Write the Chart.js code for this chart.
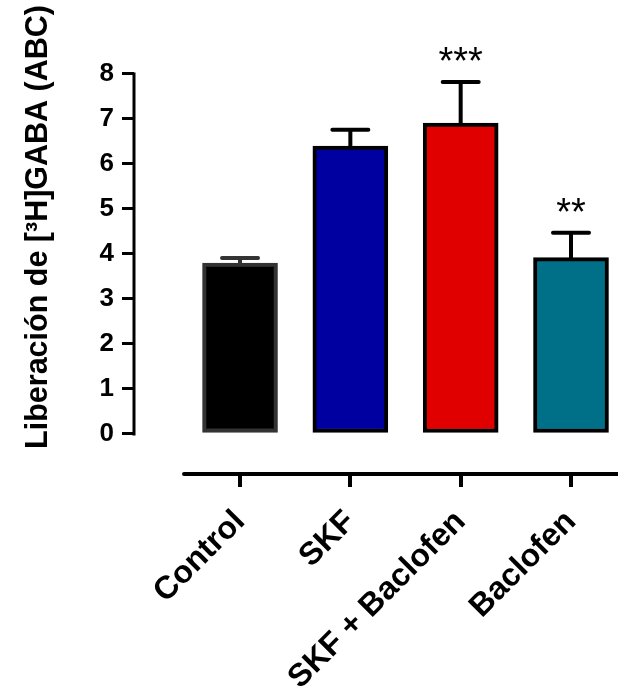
<!DOCTYPE html>
<html>
<head>
<meta charset="utf-8">
<script src="https://cdn.jsdelivr.net/npm/chart.js@4.4.0/dist/chart.umd.min.js"></script>
<style>
  html, body { margin: 0; padding: 0; background: #fff; overflow: hidden; }
  #wrap { width: 618px; height: 687px; position: relative; }
</style>
</head>
<body>
<div id="wrap"><canvas id="myChart"></canvas></div>
<script>
const categories = ['Control', 'SKF', 'SKF + Baclofen', 'Baclofen'];
const means = [3.80, 6.40, 6.91, 3.92];
const sem = [0.11, 0.36, 0.91, 0.55];
const stars = ['', '', '***', '**'];
const yTicks = [0, 1, 2, 3, 4, 5, 6, 7, 8];
const fillColors = ['#000000', '#0000a0', '#e00000', '#006f88'];
const edgeColors = ['#333333', '#000000', '#000000', '#000000'];

Chart.defaults.font.family = 'Arial, "Liberation Sans", sans-serif';
Chart.defaults.color = '#000';

// Axis lines (GraphPad style, detached) + error bars + significance stars
const axesAndErrors = {
    id: 'axesAndErrors',
    afterDatasetsDraw(chart) {
        const { ctx, chartArea, scales: { x, y } } = chart;
        ctx.save();
        ctx.strokeStyle = '#000';

        // y axis only spans the tick range
        ctx.lineWidth = 3;
        ctx.lineCap = 'butt';
        ctx.beginPath();
        ctx.moveTo(chartArea.left, y.getPixelForValue(yTicks[0]) + 1.5);
        ctx.lineTo(chartArea.left, y.getPixelForValue(yTicks[yTicks.length - 1]) - 1.5);
        ctx.stroke();

        // x axis sits below the zero line
        ctx.lineWidth = 4;
        ctx.lineCap = 'round';
        ctx.beginPath();
        ctx.moveTo(x.getPixelForValue(0) - 56, chartArea.bottom + 1);
        ctx.lineTo(chartArea.right + 5, chartArea.bottom + 1);
        ctx.stroke();

        means.forEach((m, i) => {
            const cx = x.getPixelForValue(i);
            const top = y.getPixelForValue(m + sem[i]);
            ctx.strokeStyle = edgeColors[i];
            ctx.lineWidth = 4;
            ctx.lineCap = 'round';
            ctx.beginPath();
            ctx.moveTo(cx, y.getPixelForValue(m));
            ctx.lineTo(cx, top);
            ctx.moveTo(cx - 18, top);
            ctx.lineTo(cx + 18, top);
            ctx.stroke();

            if (stars[i]) {
                ctx.fillStyle = '#000';
                ctx.font = '38px Arial, "Liberation Sans", sans-serif';
                ctx.textAlign = 'center';
                ctx.textBaseline = 'alphabetic';
                ctx.fillText(stars[i], cx, top - 8);
            }
        });
        ctx.restore();
    }
};

const ctx = document.getElementById('myChart').getContext('2d');
new Chart(ctx, {
    type: 'bar',
    data: {
        datasets: [{
            data: means.map((v, i) => ({ x: i, y: v })),
            backgroundColor: fillColors,
            borderColor: edgeColors,
            borderWidth: 4,
            borderSkipped: false,
            barThickness: 75
        }]
    },
    options: {
        responsive: true,
        maintainAspectRatio: false,
        animation: false,
        layout: { padding: { top: 5, left: 0, right: 0, bottom: 0 } },
        plugins: {
            legend: { display: false },
            tooltip: { enabled: false }
        },
        scales: {
            x: {
                type: 'linear',
                offset: false,
                min: -0.961,
                max: 3.426,
                afterBuildTicks: (s) => { s.ticks = categories.map((c, i) => ({ value: i })); },
                afterFit: (s) => { s.height = 214; s.paddingLeft = 0; s.paddingRight = 0; },
                border: { display: false },
                grid: { offset: false, drawOnChartArea: false, tickLength: 14, lineWidth: 4, tickColor: '#000' },
                ticks: {
                    autoSkip: false,
                    minRotation: 45,
                    maxRotation: 45,
                    padding: 16,
                    font: { size: 32, weight: 'bold' },
                    callback: (v) => categories[v]
                }
            },
            y: {
                min: -0.867,
                max: 9.533,
                afterBuildTicks: (s) => { s.ticks = yTicks.map(v => ({ value: v })); },
                afterFit: (s) => { s.width = 134; s.paddingTop = 0; s.paddingBottom = 0; },
                border: { display: false },
                grid: { drawOnChartArea: false, tickLength: 12, lineWidth: 3, tickColor: '#000' },
                ticks: { padding: 8, font: { size: 26, weight: 'bold' } },
                title: {
                    display: true,
                    text: 'Liberación de [³H]GABA (ABC)',
                    align: 'end',
                    padding: { top: 20 },
                    font: { size: 30.5, weight: 'bold' }
                }
            }
        }
    },
    plugins: [axesAndErrors]
});
</script>
</body>
</html>
